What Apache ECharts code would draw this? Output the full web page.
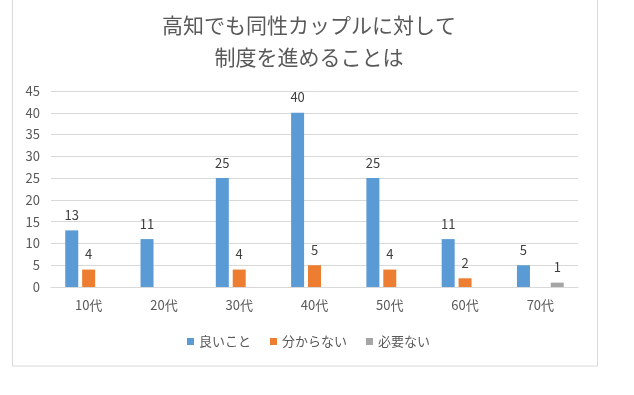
<!DOCTYPE html>
<html><head><meta charset="utf-8">
<script src="https://cdn.jsdelivr.net/npm/echarts@6/dist/echarts.min.js"></script>
<style>html,body{margin:0;padding:0;background:#fff}#c{width:634px;height:395px}</style>
</head><body><div id="c"></div>
<script>
const titleText = "高知でも同性カップルに対して\n制度を進めることは";
const categories = ["10代","20代","30代","40代","50代","60代","70代"];
const seriesNames = ["良いこと","分からない","必要ない"];
const goodValues = [13,11,25,40,25,11,5];
const unsureValues = [4,null,4,5,4,2,null];
const unneededValues = [null,null,null,null,null,null,1];
const yTicks = {min:0,max:45,interval:5};

const colors = ["#5B9BD5","#ED7D31","#A5A5A5"];
const font = '"Noto Sans CJK JP", sans-serif';
const chart = echarts.init(document.getElementById('c'));
const mk = (name, data, color) => ({
  name, type:'bar', data, barWidth:13, barGap:'30%',
  itemStyle:{color},
  label:{show:true, position:'top', distance:9, color:'#404040', fontSize:13, fontFamily:font},
  emphasis:{disabled:true}
});
chart.setOption({
  animation:false,
  textStyle:{fontFamily:font},
  graphic:[{type:'rect', shape:{x:12.5,y:-2,width:585,height:368}, style:{fill:'none',stroke:'#D9D9D9',lineWidth:1}, z:-1}],
  title:{text:titleText, left:304, textAlign:'center', top:4,
    textStyle:{fontSize:21, fontWeight:'normal', color:'#595959', lineHeight:32, fontFamily:font}},
  legend:{bottom:42, left:182, itemWidth:7, itemHeight:7, itemGap:19, icon:'rect',
    textStyle:{fontSize:13, color:'#595959', fontFamily:font}, data:seriesNames},
  grid:{left:51, right:56, top:91, bottom:108},
  xAxis:{type:'category', data:categories,
    axisLine:{lineStyle:{color:'#D9D9D9'}}, axisTick:{show:false},
    axisLabel:{color:'#595959', fontSize:13, margin:12, fontFamily:font}},
  yAxis:{type:'value', min:yTicks.min, max:yTicks.max, interval:yTicks.interval,
    axisLine:{show:false}, axisTick:{show:false},
    splitLine:{lineStyle:{color:'#D9D9D9'}},
    axisLabel:{color:'#595959', fontSize:13, margin:11, fontFamily:font}},
  series:[mk(seriesNames[0],goodValues,colors[0]), mk(seriesNames[1],unsureValues,colors[1]), mk(seriesNames[2],unneededValues,colors[2])]
});
</script></body></html>
